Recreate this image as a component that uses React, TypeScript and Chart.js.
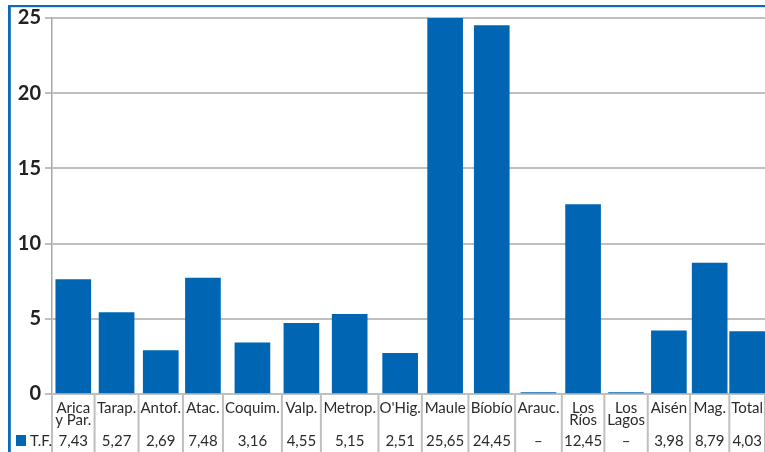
import React, { useEffect, useRef } from "react";
import { Chart, registerables } from "chart.js";
Chart.register(...registerables);

// ---- data ----
const categories = [
  "Arica\ny Par.", "Tarap.", "Antof.", "Atac.", "Coquim.", "Valp.", "Metrop.", "O'Hig.",
  "Maule", "Bíobío", "Arauc.", "Los\nRíos", "Los\nLagos", "Aisén", "Mag.", "Total",
];
// values printed in the table row "T.F." (null = "–")
const tfValues: (number | null)[] = [
  7.43, 5.27, 2.69, 7.48, 3.16, 4.55, 5.15, 2.51, 25.65, 24.45, null, 12.45, null, 3.98, 8.79, 4.03,
];
// bar heights
const barHeights = [
  7.6, 5.42, 2.89, 7.7, 3.4, 4.7, 5.3, 2.7, 25.65, 24.5, 0.1, 12.6, 0.1, 4.2, 8.7, 4.15,
];
const yTicks = [0, 5, 10, 15, 20, 25];
const seriesLabel = "T.F.";

// ---- layout (column widths of the table, px) ----
const columnWidths = [42.6, 44, 44.4, 40, 59, 39, 57.6, 43.4, 46.6, 46.7, 46.7, 42.6, 43.4, 42.3, 39.3, 35.7];

const BLUE = "#0066b3";
const FRAME = "#0b6bb8";
const GRID = "#bfbfbf";
const TEXT = "#2b2b2b";
const FONT = "Lato";

export default function App() {
  const ref = useRef<HTMLCanvasElement | null>(null);
  useEffect(() => {
    if (!ref.current) return;
    const total = columnWidths.reduce((a, b) => a + b, 0);
    const bounds: number[] = [0];
    columnWidths.forEach((w) => bounds.push(bounds[bounds.length - 1] + w));
    const centers = columnWidths.map((w, i) => bounds[i] + w / 2);

    const fmt = (v: number | null) => (v == null ? "–" : v.toFixed(2).replace(".", ","));

    const tablePlugin = {
      id: "tablePlugin",
      afterDraw(chart: any) {
        const ctx = chart.ctx as CanvasRenderingContext2D;
        const xs = chart.scales.x;
        const area = chart.chartArea;
        const H = chart.height;
        ctx.save();
        // separators
        ctx.strokeStyle = GRID;
        ctx.lineWidth = 2;
        bounds.forEach((b) => {
          const x = xs.getPixelForValue(b);
          ctx.beginPath();
          ctx.moveTo(x, area.bottom);
          ctx.lineTo(x, H);
          ctx.stroke();
        });
        // labels
        ctx.fillStyle = TEXT;
        ctx.textAlign = "center";
        ctx.textBaseline = "alphabetic";
        ctx.font = `15px ${FONT}`;
        categories.forEach((c, i) => {
          const x = xs.getPixelForValue(centers[i]);
          c.split("\n").forEach((line, j) => {
            ctx.fillText(line, x, area.bottom + 19 + j * 11.5);
          });
          ctx.fillText(fmt(tfValues[i]), x, area.bottom + 52);
        });
        // legend
        ctx.fillStyle = BLUE;
        ctx.fillRect(16, area.bottom + 41, 10, 11);
        ctx.fillStyle = TEXT;
        ctx.textAlign = "left";
        ctx.fillText(seriesLabel, 30, area.bottom + 52);
        // frame
        ctx.fillStyle = FRAME;
        ctx.fillRect(8, 5, chart.width - 8, 2.2);
        ctx.fillRect(8, 5, 2.8, H - 5);
        ctx.restore();
      },
    };

    const chart = new Chart(ref.current, {
      type: "bar",
      data: {
        datasets: [
          {
            label: seriesLabel,
            data: barHeights.map((v, i) => ({ x: centers[i], y: v })),
            backgroundColor: BLUE,
            borderWidth: 0,
            barThickness: 35,
          },
        ],
      },
      options: {
        animation: false,
        responsive: false,
        layout: { padding: { top: 18, bottom: 58, left: 0, right: 0 } },
        plugins: { legend: { display: false }, tooltip: { enabled: false } },
        scales: {
          x: {
            type: "linear",
            display: false,
            min: 0,
            max: total,
            offset: false,
          },
          y: {
            min: 0,
            max: 25,
            afterFit: (s: any) => {
              s.width = 52;
            },
            afterBuildTicks: (s: any) => {
              s.ticks = yTicks.map((v) => ({ value: v }));
            },
            ticks: {
              padding: 4,
              color: "#222",
              font: { family: FONT, size: 20, weight: "bold" },
            },
            grid: { color: GRID, lineWidth: 2, tickLength: 7 },
            border: { color: "#a8a8a8", width: 1.5 },
          },
        },
      },
      plugins: [tablePlugin],
    } as any);
    return () => chart.destroy();
  }, []);

  return (
    <div style={{ position: "fixed", left: 0, top: 0, width: 765, height: 452, background: "#fff" }}>
      <canvas ref={ref} width={765} height={452} style={{ width: 765, height: 452, display: "block" }} />
    </div>
  );
}
